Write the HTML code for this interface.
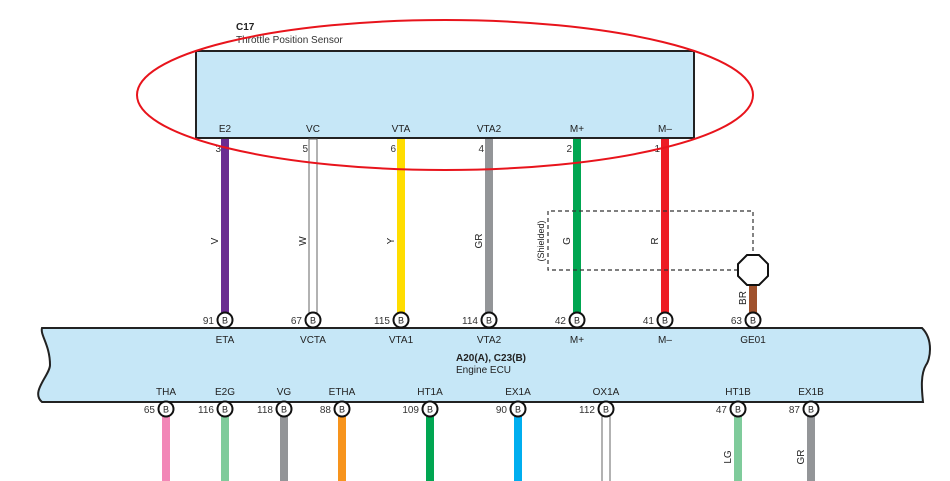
<!DOCTYPE html>
<html><head><meta charset="utf-8"><style>
html,body{margin:0;padding:0;background:#fff;}
svg{display:block;font-family:"Liberation Sans",Arial,sans-serif;}
</style></head><body>
<svg width="950" height="481" viewBox="0 0 950 481" xmlns="http://www.w3.org/2000/svg">
<!-- sensor -->
<text x="236" y="30" font-size="10" font-weight="bold" fill="#222">C17</text>
<text x="236" y="43" font-size="10" fill="#333">Throttle Position Sensor</text>
<rect x="196" y="51" width="498" height="87" fill="#c6e7f7" stroke="#222" stroke-width="2"/>
<g font-size="10" fill="#222" text-anchor="middle">
<text x="225" y="132">E2</text><text x="313" y="132">VC</text><text x="401" y="132">VTA</text>
<text x="489" y="132">VTA2</text><text x="577" y="132">M+</text><text x="665" y="132">M–</text>
</g>
<g font-size="10" fill="#333" text-anchor="end">
<text x="221" y="152">3</text><text x="308" y="152">5</text><text x="396" y="152">6</text>
<text x="484" y="152">4</text><text x="572" y="152">2</text><text x="660" y="152">1</text>
</g>
<!-- top wires -->
<rect x="221" y="139" width="8" height="174" fill="#6b2c91"/>
<rect x="309" y="139" width="8" height="174" fill="#fff" stroke="#666" stroke-width="1"/>
<rect x="397" y="139" width="8" height="174" fill="#ffdd00"/>
<rect x="485" y="139" width="8" height="174" fill="#939598"/>
<rect x="573" y="139" width="8" height="174" fill="#00a651"/>
<rect x="661" y="139" width="8" height="174" fill="#ed1c24"/>
<g font-size="10" fill="#222" text-anchor="middle">
<text transform="translate(218,241) rotate(-90)">V</text>
<text transform="translate(306,241) rotate(-90)">W</text>
<text transform="translate(394,241) rotate(-90)">Y</text>
<text transform="translate(482,241) rotate(-90)">GR</text>
<text transform="translate(570,241) rotate(-90)">G</text>
<text transform="translate(658,241) rotate(-90)">R</text>
<text transform="translate(544,241) rotate(-90)" font-size="9">(Shielded)</text>
<text transform="translate(746,298) rotate(-90)">BR</text>
</g>
<!-- shield -->
<path d="M738,270 H548 V211 H753 V255" fill="none" stroke="#333" stroke-width="1.2" stroke-dasharray="4,3"/>
<rect x="749" y="284" width="8" height="30" fill="#a0522d"/>
<polygon points="747,255 759,255 768,264 768,276 759,285 747,285 738,276 738,264" fill="#fff" stroke="#111" stroke-width="2"/>
<!-- ellipse -->
<ellipse cx="445" cy="95" rx="308" ry="75" fill="none" stroke="#e8141c" stroke-width="2"/>
<!-- ECU -->
<path d="M42,328 H922 C934,340 930,360 926,365 C920,375 922,392 923,402 H42 C30,392 50,375 50,365 C50,345 40,335 42,328 Z" fill="#c6e7f7" stroke="#222" stroke-width="2"/>
<g font-size="10" fill="#222" text-anchor="middle">
<text x="225" y="343">ETA</text><text x="313" y="343">VCTA</text><text x="401" y="343">VTA1</text>
<text x="489" y="343">VTA2</text><text x="577" y="343">M+</text><text x="665" y="343">M–</text><text x="753" y="343">GE01</text>
<text x="166" y="395">THA</text><text x="225" y="395">E2G</text><text x="284" y="395">VG</text><text x="342" y="395">ETHA</text>
<text x="430" y="395">HT1A</text><text x="518" y="395">EX1A</text><text x="606" y="395">OX1A</text><text x="738" y="395">HT1B</text><text x="811" y="395">EX1B</text>
</g>
<text x="456" y="361" font-size="10" font-weight="bold" fill="#222">A20(A), C23(B)</text>
<text x="456" y="373" font-size="10" fill="#222">Engine ECU</text>
<!-- bottom wires -->
<rect x="162" y="416" width="8" height="70" fill="#f287b7"/>
<rect x="221" y="416" width="8" height="70" fill="#7fcb9b"/>
<rect x="280" y="416" width="8" height="70" fill="#939598"/>
<rect x="338" y="416" width="8" height="70" fill="#f7941d"/>
<rect x="426" y="416" width="8" height="70" fill="#00a651"/>
<rect x="514" y="416" width="8" height="70" fill="#00aeef"/>
<rect x="602" y="416" width="8" height="70" fill="#fff" stroke="#666" stroke-width="1"/>
<rect x="734" y="416" width="8" height="70" fill="#7fcb9b"/>
<rect x="807" y="416" width="8" height="70" fill="#939598"/>
<g font-size="10" fill="#222" text-anchor="middle">
<text transform="translate(731,457) rotate(-90)">LG</text>
<text transform="translate(804,457) rotate(-90)">GR</text>
</g>
<!-- connector circles -->
<g fill="#fff" stroke="#111" stroke-width="2">
<circle cx="225" cy="320" r="7.5"/><circle cx="313" cy="320" r="7.5"/><circle cx="401" cy="320" r="7.5"/>
<circle cx="489" cy="320" r="7.5"/><circle cx="577" cy="320" r="7.5"/><circle cx="665" cy="320" r="7.5"/><circle cx="753" cy="320" r="7.5"/>
<circle cx="166" cy="409" r="7.5"/><circle cx="225" cy="409" r="7.5"/><circle cx="284" cy="409" r="7.5"/><circle cx="342" cy="409" r="7.5"/>
<circle cx="430" cy="409" r="7.5"/><circle cx="518" cy="409" r="7.5"/><circle cx="606" cy="409" r="7.5"/><circle cx="738" cy="409" r="7.5"/><circle cx="811" cy="409" r="7.5"/>
</g>
<g font-size="9" fill="#222" text-anchor="middle">
<text x="225" y="323.5">B</text><text x="313" y="323.5">B</text><text x="401" y="323.5">B</text><text x="489" y="323.5">B</text>
<text x="577" y="323.5">B</text><text x="665" y="323.5">B</text><text x="753" y="323.5">B</text>
<text x="166" y="412.5">B</text><text x="225" y="412.5">B</text><text x="284" y="412.5">B</text><text x="342" y="412.5">B</text>
<text x="430" y="412.5">B</text><text x="518" y="412.5">B</text><text x="606" y="412.5">B</text><text x="738" y="412.5">B</text><text x="811" y="412.5">B</text>
</g>
<g font-size="10" fill="#333" text-anchor="end">
<text x="214" y="324">91</text><text x="302" y="324">67</text><text x="390" y="324">115</text><text x="478" y="324">114</text>
<text x="566" y="324">42</text><text x="654" y="324">41</text><text x="742" y="324">63</text>
<text x="155" y="413">65</text><text x="214" y="413">116</text><text x="273" y="413">118</text><text x="331" y="413">88</text>
<text x="419" y="413">109</text><text x="507" y="413">90</text><text x="595" y="413">112</text><text x="727" y="413">47</text><text x="800" y="413">87</text>
</g>
</svg>
</body></html>
